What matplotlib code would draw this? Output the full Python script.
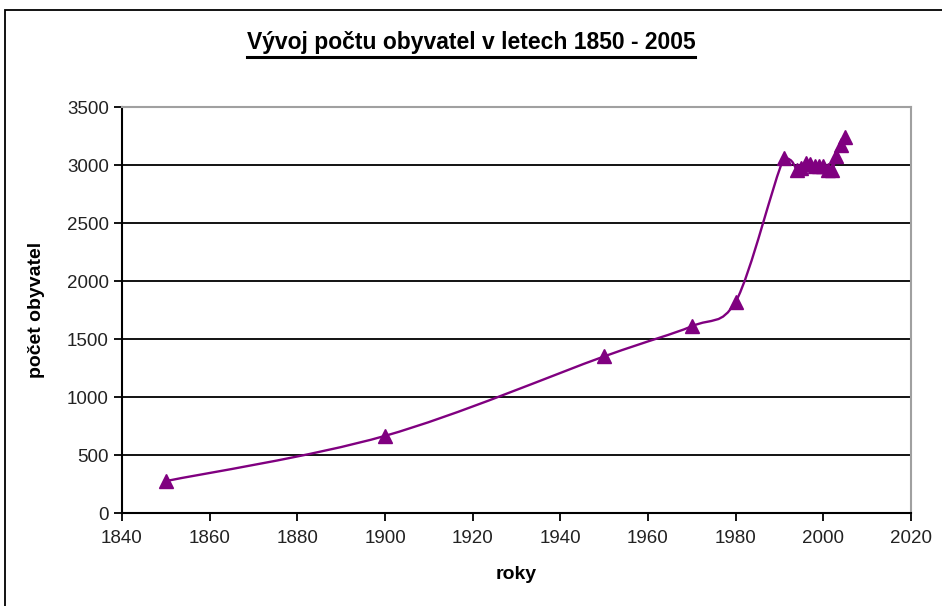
"""Vývoj počtu obyvatel 1850-2005 — přepis excelového grafu do matplotlibu."""
import matplotlib

matplotlib.use("Agg")
import matplotlib.pyplot as plt  # noqa: E402
from matplotlib.lines import Line2D  # noqa: E402
from matplotlib.patches import PathPatch, Rectangle  # noqa: E402
from matplotlib.path import Path  # noqa: E402

# Data
roky = [1850, 1900, 1950, 1970, 1980, 1991, 1994, 1995, 1996, 1997,
        1998, 1999, 2000, 2001, 2002, 2003, 2004, 2005]
obyvatel = [275, 665, 1350, 1610, 1820, 3060, 2960, 2970, 3020, 3010,
            2990, 2990, 2995, 2960, 2955, 3080, 3170, 3240]

x_ticks = list(range(1840, 2021, 20))
y_ticks = list(range(0, 3501, 500))

FIALOVA = "#800080"
plt.rcParams["font.family"] = ["Liberation Sans", "DejaVu Sans"]


def _vyhlazena_cesta(xs, ys):
    """Vyhlazená čára (Bézierovy úseky), řídicí body drženy v rozsahu úseku."""
    pts = list(zip(xs, ys))
    n = len(pts)
    verts = [pts[0]]
    codes = [Path.MOVETO]
    for i in range(n - 1):
        p0 = pts[i - 1] if i > 0 else pts[i]
        p1, p2 = pts[i], pts[i + 1]
        p3 = pts[i + 2] if i + 2 < n else pts[i + 1]
        lo, hi = min(p1[1], p2[1]), max(p1[1], p2[1])
        c1y = min(max(p1[1] + (p2[1] - p0[1]) / 6, lo), hi)
        c2y = min(max(p2[1] - (p3[1] - p1[1]) / 6, lo), hi)
        c1 = (p1[0] + (p2[0] - p0[0]) / 6, c1y)
        c2 = (p2[0] - (p3[0] - p1[0]) / 6, c2y)
        verts += [c1, c2, p2]
        codes += [Path.CURVE4] * 3
    return Path(verts, codes)


fig = plt.figure(figsize=(9.42, 6.06), dpi=100)
ax = fig.add_axes([122 / 942, 1 - 513 / 606, (911 - 122) / 942, (513 - 107) / 606])

ax.add_patch(PathPatch(_vyhlazena_cesta(roky, obyvatel), facecolor="none",
                       edgecolor=FIALOVA, lw=1.7, zorder=3))
ax.plot(roky, obyvatel, ls="none", marker="^", ms=10, color=FIALOVA, zorder=4)

ax.set_xlim(1840, 2020)
ax.set_ylim(0, 3500)
ax.set_xticks(x_ticks)
ax.set_yticks(y_ticks)
ax.tick_params(labelsize=13.5, labelcolor="#222222", length=6, width=1.3,
               direction="out")
ax.tick_params(axis="x", pad=6)
for y in y_ticks[1:-1]:
    ax.axhline(y, color="black", lw=1.3, zorder=1)

ax.spines["left"].set_linewidth(1.5)
ax.spines["bottom"].set_linewidth(1.5)
for s in ("top", "right"):
    ax.spines[s].set_color("#a0a0a0")
    ax.spines[s].set_linewidth(1.5)

ax.set_xlabel("roky", fontsize=14, weight="bold", labelpad=14)
ax.set_ylabel("počet obyvatel", fontsize=14, weight="bold", labelpad=16)

titulek = fig.text(0.5, 1 - 43 / 606, "Vývoj počtu obyvatel v letech 1850 - 2005",
                   ha="center", va="center", fontsize=16.5, weight="bold")

# Podtržení titulku
fig.canvas.draw()
bb = titulek.get_window_extent()
fig.add_artist(Line2D([bb.x0 / 942, bb.x1 / 942],
                      [(bb.y0 - 2) / 606, (bb.y0 - 2) / 606],
                      transform=fig.transFigure, color="black", lw=2.2))

# Rámeček oblasti grafu
fig.add_artist(Rectangle((5 / 942, -0.05), 1.1, 1 - 10 / 606 + 0.05,
                         transform=fig.transFigure, fill=False,
                         edgecolor="black", lw=1.3))

fig.savefig("out.png", dpi=100, facecolor="white")
plt.close(fig)
